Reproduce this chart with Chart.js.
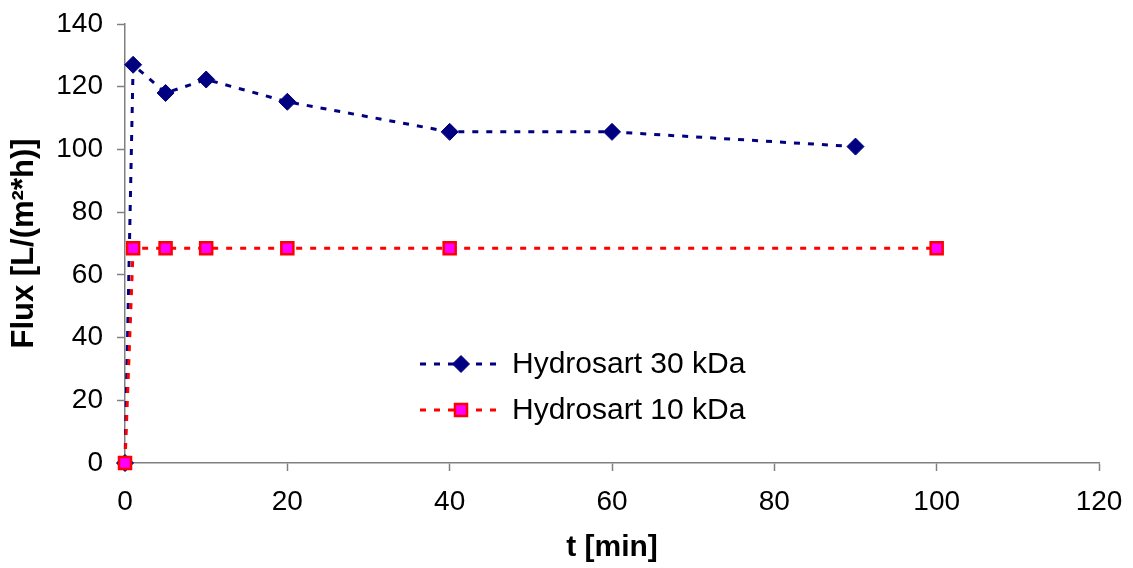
<!DOCTYPE html>
<html>
<head>
<meta charset="utf-8">
<title>Flux vs time</title>
<script src="https://cdn.jsdelivr.net/npm/chart.js@4/dist/chart.umd.min.js"></script>
<style>
    html, body { margin: 0; padding: 0; background: #fff; }
    #wrap { width: 1133px; height: 568px; }
</style>
</head>
<body>
<div id="wrap"><canvas id="fluxChart" width="1133" height="568"></canvas></div>
<script>
// measured flux data
const time30 = [0, 1, 5, 10, 20, 40, 60, 90];
const flux30 = [0, 127, 118, 122.3, 115.2, 105.6, 105.6, 100.9];
const time10 = [0, 1, 5, 10, 20, 40, 100];
const flux10 = [0, 68.5, 68.5, 68.5, 68.5, 68.5, 68.5];
const seriesNames = ['Hydrosart 30 kDa', 'Hydrosart 10 kDa'];
const xTitle = 't [min]';
const yTitle = 'Flux [L/(m\u00b2*h)]';

const FONT = "'Liberation Sans', Arial, sans-serif";
const AXIS_GREY = '#808080';

const toPoints = (xs, ys) => xs.map((x, i) => ({ x: x, y: ys[i] }));

// legend drawn inside the plot: dashed line with the marker in the middle
const lineLegend = {
    id: 'lineLegend',
    afterDatasetsDraw(chart, args, opts) {
        const ctx = chart.ctx;
        const sets = chart.data.datasets;
        ctx.save();
        sets.forEach((ds, i) => {
            const y = opts.top + i * opts.rowGap;
            ctx.strokeStyle = ds.borderColor;
            ctx.lineWidth = ds.borderWidth;
            ctx.setLineDash(ds.borderDash);
            ctx.beginPath();
            ctx.moveTo(opts.left, y);
            ctx.lineTo(opts.left + opts.lineLength, y);
            ctx.stroke();
            ctx.setLineDash([]);
            ctx.fillStyle = ds.pointBackgroundColor;
            ctx.strokeStyle = ds.pointBorderColor;
            ctx.lineWidth = ds.pointBorderWidth;
            Chart.helpers.drawPoint(ctx, {
                pointStyle: ds.pointStyle,
                radius: ds.pointRadius,
                borderWidth: ds.pointBorderWidth
            }, opts.left + opts.lineLength / 2, y);
            ctx.fillStyle = '#000';
            ctx.font = opts.fontSize + 'px ' + FONT;
            ctx.textBaseline = 'middle';
            ctx.textAlign = 'left';
            ctx.fillText(ds.label, opts.left + opts.lineLength + 10, y + 1);
        });
        ctx.restore();
    }
};

new Chart(document.getElementById('fluxChart'), {
    type: 'scatter',
    data: {
        datasets: [
            {
                label: seriesNames[0],
                data: toPoints(time30, flux30),
                showLine: true,
                borderColor: '#000080',
                borderWidth: 3,
                borderDash: [6, 8],
                pointStyle: 'rectRot',
                pointRadius: 8.5,
                pointHoverRadius: 8.5,
                pointBackgroundColor: '#000080',
                pointBorderColor: '#000080',
                pointBorderWidth: 1,
                clip: false,
                order: 1
            },
            {
                label: seriesNames[1],
                data: toPoints(time10, flux10),
                showLine: true,
                borderColor: '#ff0000',
                borderWidth: 3,
                borderDash: [6, 8],
                pointStyle: 'rect',
                pointRadius: 8.5,
                pointHoverRadius: 8.5,
                pointBackgroundColor: '#ff00ff',
                pointBorderColor: '#ff0000',
                pointBorderWidth: 2.5,
                clip: false,
                order: 0
            }
        ]
    },
    options: {
        responsive: false,
        animation: false,
        layout: { padding: { top: 24, right: 34, left: 0, bottom: 0 } },
        plugins: {
            legend: { display: false },
            tooltip: { enabled: false },
            lineLegend: { left: 420, top: 364, rowGap: 46, lineLength: 82, fontSize: 30 }
        },
        scales: {
            x: {
                type: 'linear',
                min: 0,
                max: 120,
                afterFit(scale) {
                    scale.height = 105;
                    scale.paddingLeft = 0;
                    scale.paddingRight = 0;
                },
                border: { color: AXIS_GREY, width: 1.5 },
                grid: { drawOnChartArea: false, drawTicks: true, tickLength: 8, tickColor: AXIS_GREY, tickWidth: 1.5 },
                ticks: { stepSize: 20, color: '#000', padding: 14, maxRotation: 0, font: { family: FONT, size: 28 } },
                title: { display: true, text: xTitle, color: '#000', padding: { top: 0, bottom: 2 }, font: { family: FONT, size: 30, weight: 'bold' } }
            },
            y: {
                type: 'linear',
                min: 0,
                max: 140,
                afterFit(scale) {
                    scale.width = 125;
                    scale.paddingTop = 0;
                    scale.paddingBottom = 0;
                },
                border: { color: AXIS_GREY, width: 1.5 },
                grid: { drawOnChartArea: false, drawTicks: true, tickLength: 8, tickColor: AXIS_GREY, tickWidth: 1.5 },
                ticks: { stepSize: 20, color: '#000', padding: 14, font: { family: FONT, size: 28 } },
                title: { display: true, text: yTitle, color: '#000', padding: { top: 6, bottom: 0 }, font: { family: FONT, size: 31, weight: 'bold' } }
            }
        }
    },
    plugins: [lineLegend]
});
</script>
</body>
</html>
